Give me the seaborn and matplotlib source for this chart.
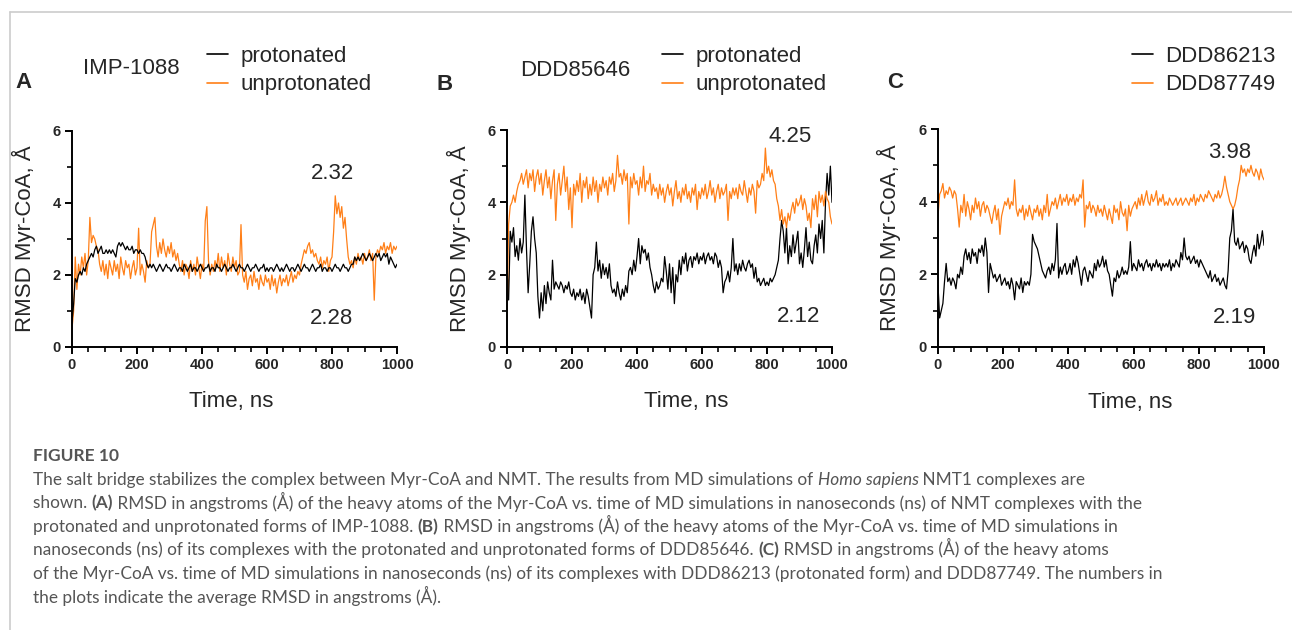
import numpy as np
import matplotlib
matplotlib.use("Agg")
import matplotlib.pyplot as plt
import seaborn as sns
from matplotlib.lines import Line2D
from matplotlib.ticker import MultipleLocator

time_ns = np.arange(0, 1001, 5)

prot_A = [
    0.7, 1.2, 1.9, 1.8, 2.0, 2.1, 2.0, 2.2, 2.1, 2.3, 2.4, 2.5, 2.6, 2.5, 2.7, 2.8, 2.6, 2.7, 2.8, 2.6,
    2.6, 2.7, 2.6, 2.7, 2.6, 2.7, 2.6, 2.5, 2.8, 2.9, 2.8, 2.9, 2.8, 2.7, 2.8, 2.7, 2.7, 2.8, 2.6, 2.7,
    2.7, 2.6, 2.7, 2.6, 2.6, 2.5, 2.3, 2.2, 2.3, 2.2, 2.3, 2.2, 2.1, 2.2, 2.3, 2.2, 2.1, 2.2, 2.3, 2.2,
    2.2, 2.1, 2.2, 2.3, 2.2, 2.1, 2.2, 2.2, 2.1, 2.3, 2.2, 2.1, 2.2, 2.3, 2.1, 2.2, 2.2, 2.1, 2.2, 2.3,
    2.2, 2.1, 2.2, 2.2, 2.3, 2.1, 2.2, 2.2, 2.1, 2.3, 2.2, 2.2, 2.1, 2.2, 2.3, 2.2, 2.1, 2.2, 2.2, 2.3,
    2.2, 2.1, 2.2, 2.3, 2.2, 2.2, 2.1, 2.2, 2.3, 2.2, 2.1, 2.2, 2.2, 2.3, 2.2, 2.1, 2.2, 2.2, 2.3, 2.1,
    2.2, 2.1, 2.2, 2.2, 2.1, 2.2, 2.3, 2.2, 2.1, 2.2, 2.1, 2.2, 2.3, 2.2, 2.1, 2.2, 2.2, 2.1, 2.2, 2.3,
    2.2, 2.1, 2.2, 2.3, 2.2, 2.2, 2.1, 2.2, 2.3, 2.2, 2.1, 2.2, 2.2, 2.3, 2.1, 2.2, 2.2, 2.1, 2.2, 2.2,
    2.1, 2.2, 2.3, 2.2, 2.2, 2.1, 2.2, 2.3, 2.2, 2.2, 2.1, 2.2, 2.3, 2.3, 2.5, 2.4, 2.5, 2.4, 2.5, 2.6,
    2.5, 2.4, 2.5, 2.6, 2.5, 2.4, 2.5, 2.6, 2.5, 2.6, 2.4, 2.5, 2.6, 2.5, 2.6, 2.3, 2.5, 2.4, 2.3, 2.2,
    2.3,
]
unprot_A = [
    0.5, 1.0, 2.5, 1.6, 2.3, 2.0, 2.5, 2.2, 2.6, 2.0, 2.4, 3.6, 2.9, 3.1, 3.0, 2.8, 2.7, 2.3, 2.1, 2.4,
    2.0, 2.3, 1.9, 2.4, 2.2, 2.0, 2.4, 2.1, 2.3, 1.9, 2.5, 2.2, 2.0, 2.4, 2.2, 2.3, 1.9, 2.2, 2.4, 2.0,
    2.2, 3.3, 2.0, 2.3, 2.1, 1.8, 2.4, 2.2, 2.3, 3.2, 3.4, 3.6, 2.8, 2.5, 2.9, 2.6, 3.0, 2.7, 2.5, 2.8,
    2.6, 2.9, 2.5, 2.7, 2.4, 2.6, 2.3, 2.1, 2.4, 2.0, 2.3, 2.2, 1.9, 2.4, 2.1, 2.3, 2.0, 2.5, 2.2, 1.9,
    2.3, 2.1, 3.5, 3.9, 2.4, 2.0, 2.3, 2.1, 2.4, 2.2, 2.6, 2.1, 2.5, 2.2, 2.4, 2.0, 2.6, 2.3, 2.1, 2.5,
    2.2, 2.4, 2.0, 2.1, 3.4, 2.0, 1.8, 2.1, 1.6, 1.9, 2.0, 1.7, 2.1, 1.8, 1.9, 1.6, 2.0, 1.8, 1.7, 2.0,
    1.8, 1.9, 1.6, 2.0, 1.7, 1.9, 1.5, 1.8, 2.0, 1.7, 1.9, 1.8, 2.0, 1.7, 1.9, 2.1, 1.8, 2.0, 1.9, 2.1,
    2.0, 2.3, 2.5, 2.7, 2.6, 2.8, 2.9, 2.6, 2.7, 2.5, 2.6, 2.4, 2.3, 2.5, 2.2, 2.4, 2.3, 2.5, 2.1, 2.4,
    2.5, 3.2, 4.2, 3.7, 4.0, 3.6, 3.9, 3.3, 3.6, 3.0, 2.5, 2.3, 2.4, 2.2, 2.5, 2.3, 2.6, 2.4, 2.5, 2.3,
    2.6, 2.4, 2.5, 2.7, 2.4, 2.6, 1.3, 2.5, 2.7, 2.6, 2.8, 2.7, 2.9, 2.6, 2.8, 2.7, 2.9, 2.6, 2.8, 2.7,
    2.8,
]
prot_B = [
    2.4, 1.3, 3.2, 2.9, 3.3, 2.5, 2.8, 2.4, 3.0, 2.6, 2.9, 4.2, 2.7, 1.5, 2.3, 3.2, 3.6, 3.0, 2.6, 1.4,
    0.8, 1.5, 1.0, 1.7, 1.2, 1.8, 1.5, 1.3, 2.4, 1.6, 1.8, 1.7, 1.6, 1.8, 1.7, 1.5, 1.7, 1.6, 1.8, 1.5,
    1.4, 1.6, 1.3, 1.5, 1.4, 1.6, 1.3, 1.5, 1.2, 1.6, 1.4, 1.1, 0.8, 2.0, 2.2, 2.9, 2.1, 2.4, 1.9, 2.3,
    2.0, 2.2, 1.9, 2.3, 1.7, 1.5, 1.6, 1.4, 1.8, 1.5, 1.3, 1.6, 1.4, 1.7, 1.5, 2.1, 2.2, 2.0, 2.4, 2.1,
    2.5, 3.0, 2.3, 2.8, 2.6, 2.7, 2.4, 2.6, 2.2, 2.0, 1.7, 1.5, 1.8, 1.6, 1.7, 1.9, 1.8, 2.5, 2.1, 1.6,
    2.3, 1.5, 2.2, 1.2, 2.0, 1.8, 2.4, 2.0, 2.5, 2.3, 2.6, 2.1, 2.4, 2.5, 2.2, 2.5, 2.4, 2.6, 2.3, 2.5,
    2.4, 2.6, 2.3, 2.5, 2.6, 2.4, 2.5, 2.3, 2.6, 2.5, 2.2, 2.4, 2.2, 1.5, 1.8, 1.9, 2.1, 1.8, 2.2, 3.0,
    2.1, 2.3, 2.0, 2.3, 2.1, 2.4, 2.2, 2.1, 2.3, 2.4, 2.2, 2.3, 1.9, 2.2, 1.8, 1.9, 1.7, 1.8, 1.9, 1.7,
    1.8, 1.7, 1.9, 1.8, 1.9, 2.0, 2.2, 2.4, 3.0, 3.5, 3.2, 2.6, 3.3, 2.3, 2.8, 2.5, 3.1, 2.6, 2.9, 3.2,
    2.3, 2.6, 2.2, 2.7, 3.3, 2.5, 2.9, 2.4, 2.3, 2.8, 3.1, 2.6, 3.4, 3.0, 3.5, 2.6, 4.0, 4.8, 4.2, 5.0,
    4.0,
]
unprot_B = [
    0.8, 3.4, 3.9, 4.0, 4.2, 4.0, 4.3, 4.5, 4.6, 4.8, 4.5, 4.7, 4.9, 4.4, 4.8, 4.6, 4.9, 4.3, 4.7, 4.9,
    4.5, 4.8, 4.2, 4.6, 4.9, 4.4, 4.7, 4.1, 4.6, 4.9, 3.5, 4.5, 4.8, 4.2, 4.6, 5.0, 4.3, 4.7, 3.8, 4.4,
    3.3, 4.5, 4.2, 4.6, 4.3, 4.8, 4.0, 4.6, 4.4, 4.7, 4.1, 4.5, 4.2, 4.7, 4.3, 4.6, 4.0, 4.5, 4.3, 4.7,
    4.4, 4.6, 4.2, 4.7, 4.5, 4.8, 4.3, 4.6, 5.3, 4.7, 4.8, 4.5, 4.9, 4.6, 4.8, 3.4, 4.7, 4.4, 4.8, 4.5,
    4.6, 4.2, 4.7, 4.4, 5.0, 4.3, 4.6, 4.5, 4.8, 4.2, 4.5, 4.3, 4.4, 4.1, 4.5, 4.2, 4.4, 4.0, 4.3, 4.5,
    4.2, 4.4, 3.9, 4.3, 4.6, 4.1, 4.3, 4.0, 4.4, 4.2, 4.5, 4.1, 4.3, 4.0, 4.4, 4.2, 4.5, 3.8, 4.3, 4.1,
    4.4, 4.2, 4.5, 4.1, 4.3, 4.6, 4.2, 4.4, 4.0, 4.3, 4.5, 4.1, 4.4, 4.2, 4.3, 4.5, 3.5, 4.3, 4.1, 4.4,
    4.2, 4.4, 4.1, 4.5, 4.3, 4.2, 4.6, 4.3, 4.0, 4.4, 4.2, 4.5, 4.3, 3.7, 4.6, 4.4, 4.5, 4.8, 4.6, 5.5,
    4.8, 5.0, 4.7, 4.9, 4.6, 4.5, 4.1, 3.9, 3.5, 3.8, 3.4, 3.6, 3.3, 3.7, 3.5, 3.8, 4.0, 3.7, 4.1, 3.9,
    4.0, 4.2, 3.8, 4.1, 3.9, 3.5, 3.7, 3.3, 4.1, 3.8, 4.2, 3.6, 4.3, 4.0, 4.2, 3.9, 4.3, 4.1, 4.0, 3.6,
    3.4,
]
prot_C = [
    1.7, 0.8, 1.0, 1.2, 1.8, 2.3, 1.8, 1.9, 1.7, 1.9, 1.8, 1.6, 2.0, 1.9, 2.2, 2.0, 2.5, 2.7, 2.4, 2.6,
    2.3, 2.7, 2.5, 2.6, 2.3, 2.7, 2.6, 2.8, 2.5, 3.0, 2.6, 1.5, 2.3, 2.1, 1.9, 2.0, 1.8, 1.9, 2.0, 1.7,
    1.8, 1.9, 1.7, 1.8, 1.6, 1.9, 1.7, 1.3, 1.8, 1.7, 1.6, 1.9, 1.5, 1.8, 1.7, 1.8, 1.7, 2.0, 3.1, 2.9,
    2.8, 2.7, 2.5, 2.3, 2.1, 2.0, 1.9, 2.1, 2.2, 2.0, 2.3, 2.1, 2.4, 3.4, 1.9, 2.2, 2.0, 2.2, 2.3, 2.0,
    2.1, 2.3, 2.0, 2.4, 2.2, 2.5, 2.3, 2.0, 1.7, 2.1, 2.2, 2.0, 1.8, 2.1, 2.0, 1.9, 2.3, 2.1, 2.4, 2.2,
    2.3, 2.5, 2.2, 2.4, 2.1, 2.0, 1.7, 1.4, 1.9, 1.8, 2.1, 1.9, 2.0, 2.2, 2.0, 2.1, 2.0, 2.2, 2.9, 2.1,
    2.3, 2.2, 2.1, 2.4, 2.2, 2.3, 2.1, 2.3, 2.4, 2.2, 2.3, 2.1, 2.3, 2.2, 2.4, 2.2, 2.3, 2.1, 2.3, 2.2,
    2.3, 2.2, 2.4, 2.1, 2.3, 2.2, 2.4, 2.3, 2.2, 2.6, 2.4, 3.0, 2.5, 2.4, 2.5, 2.3, 2.4, 2.5, 2.3, 2.4,
    2.2, 2.4, 2.3, 2.2, 2.1, 2.0, 1.9, 2.1, 1.8, 1.9, 2.0, 1.8, 1.9, 1.7, 1.8, 1.9, 1.7, 1.6, 2.1, 3.0,
    3.2, 3.8, 2.9, 2.8, 3.0, 2.7, 2.8, 2.9, 2.6, 2.8, 2.7, 2.4, 2.3, 2.6, 2.8, 2.5, 3.1, 2.7, 2.9, 3.2,
    2.8,
]
unprot_C = [
    3.6, 4.2, 4.3, 4.5, 4.1, 4.3, 4.2, 4.4, 4.3, 4.1, 4.3, 4.2, 3.8, 3.3, 3.9, 3.7, 4.2, 3.6, 4.0, 3.8,
    3.5, 3.9, 3.7, 4.1, 3.8, 4.0, 3.6, 3.9, 4.0, 3.7, 3.9, 3.8, 3.6, 3.4, 3.7, 3.9, 3.5, 3.8, 3.1, 3.6,
    3.8, 4.0, 3.9, 4.1, 3.8, 4.0, 3.9, 4.6, 3.8, 3.6, 3.8, 3.7, 3.9, 3.5, 3.8, 3.6, 3.9, 3.7, 3.5, 3.8,
    3.7, 3.9, 3.6, 3.8, 3.5, 3.9, 3.7, 4.2, 3.6, 3.8, 4.0, 3.9, 4.1, 3.8, 4.0, 4.2, 3.9, 4.1, 4.0, 4.2,
    3.9, 4.1, 4.0, 4.2, 3.9, 4.1, 4.0, 4.2, 4.1, 4.6, 3.3, 3.9, 3.8, 4.0, 3.7, 3.9, 3.8, 3.6, 3.9, 3.7,
    3.8, 3.6, 3.9, 3.7, 3.5, 3.8, 3.6, 3.4, 3.9, 3.7, 3.8, 3.5, 4.0, 3.7, 3.6, 3.8, 3.2, 3.9, 3.6, 3.8,
    3.9, 4.0, 3.8, 4.1, 3.9, 4.2, 3.9, 4.1, 4.3, 4.0, 3.9, 4.2, 4.0, 4.1, 4.3, 3.9, 4.1, 4.0, 4.2, 3.9,
    4.0, 3.9, 4.1, 4.0, 3.9, 4.0, 4.1, 3.9, 4.0, 4.1, 3.9, 4.0, 4.1, 4.0, 3.9, 4.1, 4.0, 4.2, 3.9, 4.1,
    4.0, 4.2, 4.1, 4.0, 4.2, 4.1, 4.3, 4.2, 4.1, 4.0, 4.2, 4.1, 4.3, 4.1, 4.2, 4.4, 4.7, 4.4, 4.2, 4.0,
    3.9, 3.8, 3.9, 4.1, 4.4, 4.6, 5.0, 4.8, 4.9, 4.7, 4.9, 4.8, 5.0, 4.8, 4.7, 4.9, 4.8, 4.6, 4.9, 4.7,
    4.6,
]

panel_letters = ["A", "B", "C"]
compound_names = ["IMP-1088", "DDD85646", ""]
legend_labels = [["protonated", "unprotonated"],
                 ["protonated", "unprotonated"],
                 ["DDD86213", "DDD87749"]]
avg_black = ["2.28", "2.12", "2.19"]
avg_orange = ["2.32", "4.25", "3.98"]
black_series = [prot_A, prot_B, prot_C]
orange_series = [unprot_A, unprot_B, unprot_C]

W, H = 1292, 630
ORANGE = "#ff7f17"
CHART_FONT = ["Liberation Sans", "DejaVu Sans"]

sns.set_theme(style="ticks")
plt.rcParams["font.family"] = CHART_FONT

fig = plt.figure(figsize=(W / 100, H / 100), dpi=100)
fig.patch.set_facecolor("white")

# pixel boxes of each panel: left, right, top (y=6), bottom (y=0)
boxes = [(72, 397, 131, 347), (507, 832, 130, 347), (938, 1264, 129, 347)]
xlabel_x = [0.49, 0.55, 0.59]
orange_xy = [(800, 4.83), (871, 5.83), (896, 5.34)]
black_xy = [(797, 0.8), (898, 0.83), (911, 0.8)]
letter_xy = [(15, 82), (437, 84), (887, 82)]
name_xy = [(83, 69), (520, 70), None]
legend_xy = [(207, 46), (662, 46), (1132, 46)]

for i in range(3):
    l, r, t, b = boxes[i]
    ax = fig.add_axes([l / W, 1 - b / H, (r - l) / W, (b - t) / H])
    ax.set_facecolor("none")
    sns.lineplot(x=time_ns, y=black_series[i], color="black", lw=0.9,
                 ax=ax, label=legend_labels[i][0])
    sns.lineplot(x=time_ns, y=orange_series[i], color=ORANGE, lw=0.9,
                 ax=ax, label=legend_labels[i][1])
    # protonated trace drawn on top in A, as in the reference
    if i == 0:
        ax.lines[0].set_zorder(3)

    ax.set_xlim(0, 1000)
    ax.set_ylim(0, 6)
    ax.xaxis.set_major_locator(MultipleLocator(200))
    ax.xaxis.set_minor_locator(MultipleLocator(50))
    ax.yaxis.set_major_locator(MultipleLocator(2))
    ax.yaxis.set_minor_locator(MultipleLocator(1))
    sns.despine(ax=ax)
    for s in ["left", "bottom"]:
        ax.spines[s].set_linewidth(1.4)
        ax.spines[s].set_color("black")
    ax.tick_params(which="major", length=5, width=1.4, color="black",
                   labelsize=10.5, pad=3, direction="out")
    ax.tick_params(which="minor", length=3.5, width=1.2, color="black",
                   direction="out")
    for lab in ax.get_xticklabels() + ax.get_yticklabels():
        lab.set_fontweight("bold")
    ax.set_xlabel("Time, ns", fontsize=16)
    ax.set_ylabel("RMSD Myr-CoA, Å", fontsize=16)
    ax.xaxis.set_label_coords(xlabel_x[i], -0.205)
    ax.yaxis.set_label_coords(-0.112, 0.5)

    ax.text(*orange_xy[i], avg_orange[i], fontsize=16, ha="center", va="center")
    ax.text(*black_xy[i], avg_black[i], fontsize=16, ha="center", va="center")

    handles = [Line2D([], [], color="black", lw=1.2),
               Line2D([], [], color=ORANGE, lw=1.2)]
    lx, ly = legend_xy[i]
    ax.legend(handles, legend_labels[i], loc="upper left",
              bbox_to_anchor=(lx / W, 1 - ly / H), bbox_transform=fig.transFigure,
              frameon=False, fontsize=16, borderpad=0, borderaxespad=0,
              handlelength=0.95, handletextpad=0.55, labelspacing=0.33)

    fx, fy = letter_xy[i]
    fig.text(fx / W, 1 - fy / H, panel_letters[i], fontsize=16,
             fontweight="bold", va="center", ha="left")
    if name_xy[i] is not None:
        nx, ny = name_xy[i]
        fig.text(nx / W, 1 - ny / H, compound_names[i], fontsize=16,
                 va="center", ha="left")

# thin grey frame of the figure panel
fig.add_artist(Line2D([10 / W, 10 / W], [0, 1 - 12 / H], color="#cccccc",
                      lw=1.2, transform=fig.transFigure))
fig.add_artist(Line2D([10 / W, 1], [1 - 12 / H, 1 - 12 / H], color="#cccccc",
                      lw=1.2, transform=fig.transFigure))

# caption with mixed bold / italic runs, all on a common baseline
CAP_FONT = ["Lato", "DejaVu Sans"]
CAP_COLOR = "#555555"
renderer = fig.canvas.get_renderer()

fig.text(33 / W, 1 - 461 / H, "FIGURE 10", fontsize=12.5, fontweight="bold",
         color=CAP_COLOR, family=CAP_FONT, va="baseline", ha="left")

caption_lines = [
    [("The salt bridge stabilizes the complex between Myr-CoA and NMT. The results from MD simulations of ", "n"),
     ("Homo sapiens", "i"), (" NMT1 complexes are", "n")],
    [("shown. ", "n"), ("(A)", "b"),
     (" RMSD in angstroms (Å) of the heavy atoms of the Myr-CoA vs. time of MD simulations in nanoseconds (ns) of NMT complexes with the", "n")],
    [("protonated and unprotonated forms of IMP-1088. ", "n"), ("(B)", "b"),
     (" RMSD in angstroms (Å) of the heavy atoms of the Myr-CoA vs. time of MD simulations in", "n")],
    [("nanoseconds (ns) of its complexes with the protonated and unprotonated forms of DDD85646. ", "n"),
     ("(C)", "b"), (" RMSD in angstroms (Å) of the heavy atoms", "n")],
    [("of the Myr-CoA vs. time of MD simulations in nanoseconds (ns) of its complexes with DDD86213 (protonated form) and DDD87749. The numbers in", "n")],
    [("the plots indicate the average RMSD in angstroms (Å).", "n")],
]
line_y = [479, 502.5, 526, 549.5, 573, 596.5]

for runs, yy in zip(caption_lines, line_y):
    x = 33.0
    for txt, st in runs:
        t = fig.text(x / W, 1 - (yy + 6) / H, txt, fontsize=12.4,
                     color=CAP_COLOR, family=CAP_FONT,
                     va="baseline", ha="left",
                     fontweight="bold" if st == "b" else "normal",
                     fontstyle="italic" if st == "i" else "normal")
        x += t.get_window_extent(renderer).width

fig.savefig("out.png", dpi=100, facecolor="white")
